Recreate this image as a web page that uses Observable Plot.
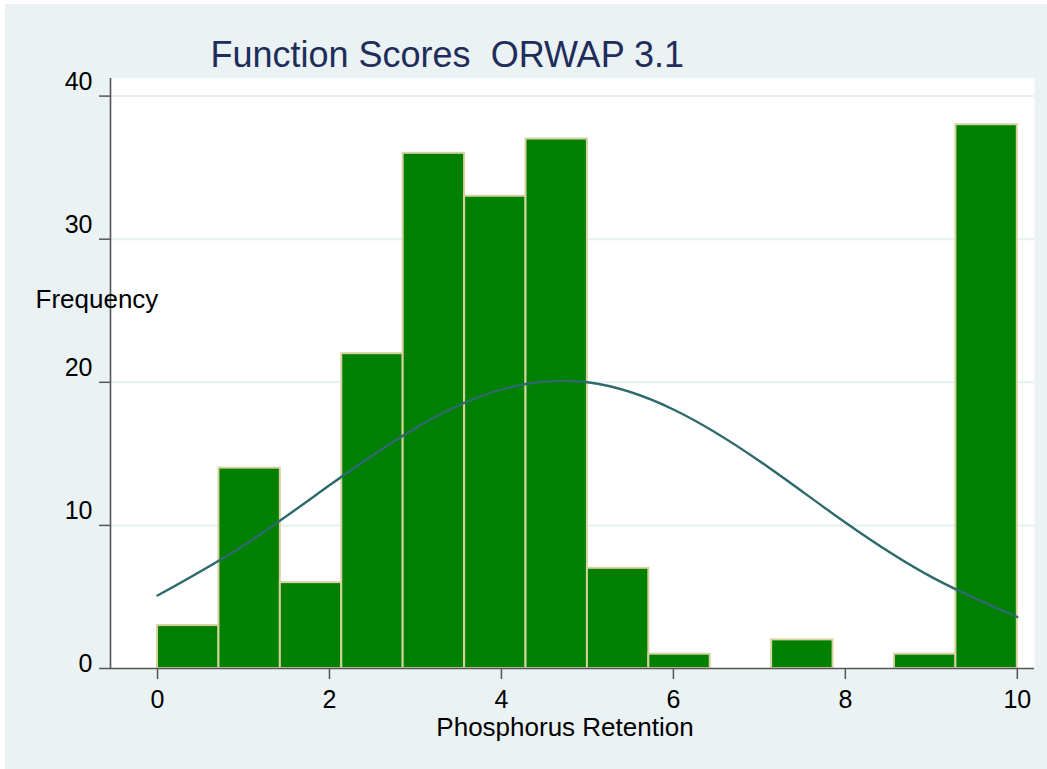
<!DOCTYPE html>
<html><head><meta charset="utf-8">
<script src="https://cdn.jsdelivr.net/npm/d3@7"></script>
<script src="https://cdn.jsdelivr.net/npm/@observablehq/plot@0.6"></script>
<style>
html,body{margin:0;padding:0;background:#fff;}
#chart{position:absolute;left:5px;top:4px;}
</style></head><body><div id="chart"></div>
<script>
const binWidth = 10 / 14;
const counts = [3, 14, 6, 22, 36, 33, 37, 7, 1, 0, 2, 0, 1, 38];
const curveX = [0, 1, 2, 3, 4, 5, 6, 7, 8, 9, 10];
const curveY = [5.1, 8.6, 12.8, 16.8, 19.5, 20.0, 18.1, 14.5, 10.2, 6.4, 3.6];
const xTicks = [0, 2, 4, 6, 8, 10];
const yTicks = [10, 20, 30, 40];
const yZero = [0];
const titleText = "Function Scores  ORWAP 3.1";
const xLabel = "Phosphorus Retention";
const yLabel = "Frequency";

const bins = counts.map((c, i) => ({x1: i * binWidth, x2: (i + 1) * binWidth, count: c})).filter(d => d.count > 0);
const curve = curveX.map((x, i) => ({x, y: curveY[i]}));

const xMin = -0.547, xMax = 10.2, yMax = 41.23;
const font = "'Liberation Sans', Arial, Helvetica, sans-serif";
const axisCol = "#555";

const chart = Plot.plot({
  width: 1042, height: 765,
  marginLeft: 105, marginRight: 13, marginTop: 74, marginBottom: 101,
  style: {background: "#eaf2f3", fontFamily: font, fontSize: "25px", color: "#000", overflow: "visible"},
  x: {domain: [xMin, xMax]},
  y: {domain: [0, yMax]},
  marks: [
    Plot.frame({fill: "#fff", stroke: null}),
    Plot.gridY(yTicks, {stroke: "#e6eff1", strokeOpacity: 1, strokeWidth: 2}),
    Plot.rectY(bins, {x1: "x1", x2: "x2", y: "count", fill: "#008000", stroke: "#d8d1a1", strokeWidth: 2}),
    Plot.line(curve, {x: "x", y: "y", stroke: "#2e6a6c", strokeWidth: 2.4, curve: "natural"}),
    Plot.ruleX([xMin], {stroke: axisCol, strokeWidth: 1.6}),
    Plot.ruleY([0], {stroke: axisCol, strokeWidth: 1.6}),
    // tick marks only
    Plot.axisY([...yZero, ...yTicks], {tickSize: 11, stroke: axisCol, strokeWidth: 1.5, label: null, tickFormat: () => ""}),
    // tick labels (slightly raised, as in the original)
    Plot.axisY(yTicks, {tickSize: 0, tickPadding: 18, fill: "#000", label: null, fontSize: 25, dy: -14, tickFormat: d => d}),
    Plot.axisY(yZero, {tickSize: 0, tickPadding: 18, fill: "#000", label: null, fontSize: 25, dy: -4.5, tickFormat: d => d}),
    Plot.axisX(xTicks, {tickSize: 11, tickPadding: 11, stroke: axisCol, strokeWidth: 1.5, fill: "#000", label: null, fontSize: 25, tickFormat: d => d}),
    Plot.text([titleText], {frameAnchor: "top-left", dx: 100, dy: -12, lineAnchor: "bottom", textAnchor: "start", fill: "#1e2d5a", fontSize: 36}),
    Plot.text([yLabel], {frameAnchor: "top-left", dx: -75, dy: 229, lineAnchor: "bottom", textAnchor: "start", fill: "#000", fontSize: 26}),
    Plot.text([xLabel], {frameAnchor: "bottom", dx: -7.5, dy: 67, lineAnchor: "bottom", textAnchor: "middle", fill: "#000", fontSize: 26})
  ]
});
document.getElementById("chart").appendChild(chart);
</script></body></html>
